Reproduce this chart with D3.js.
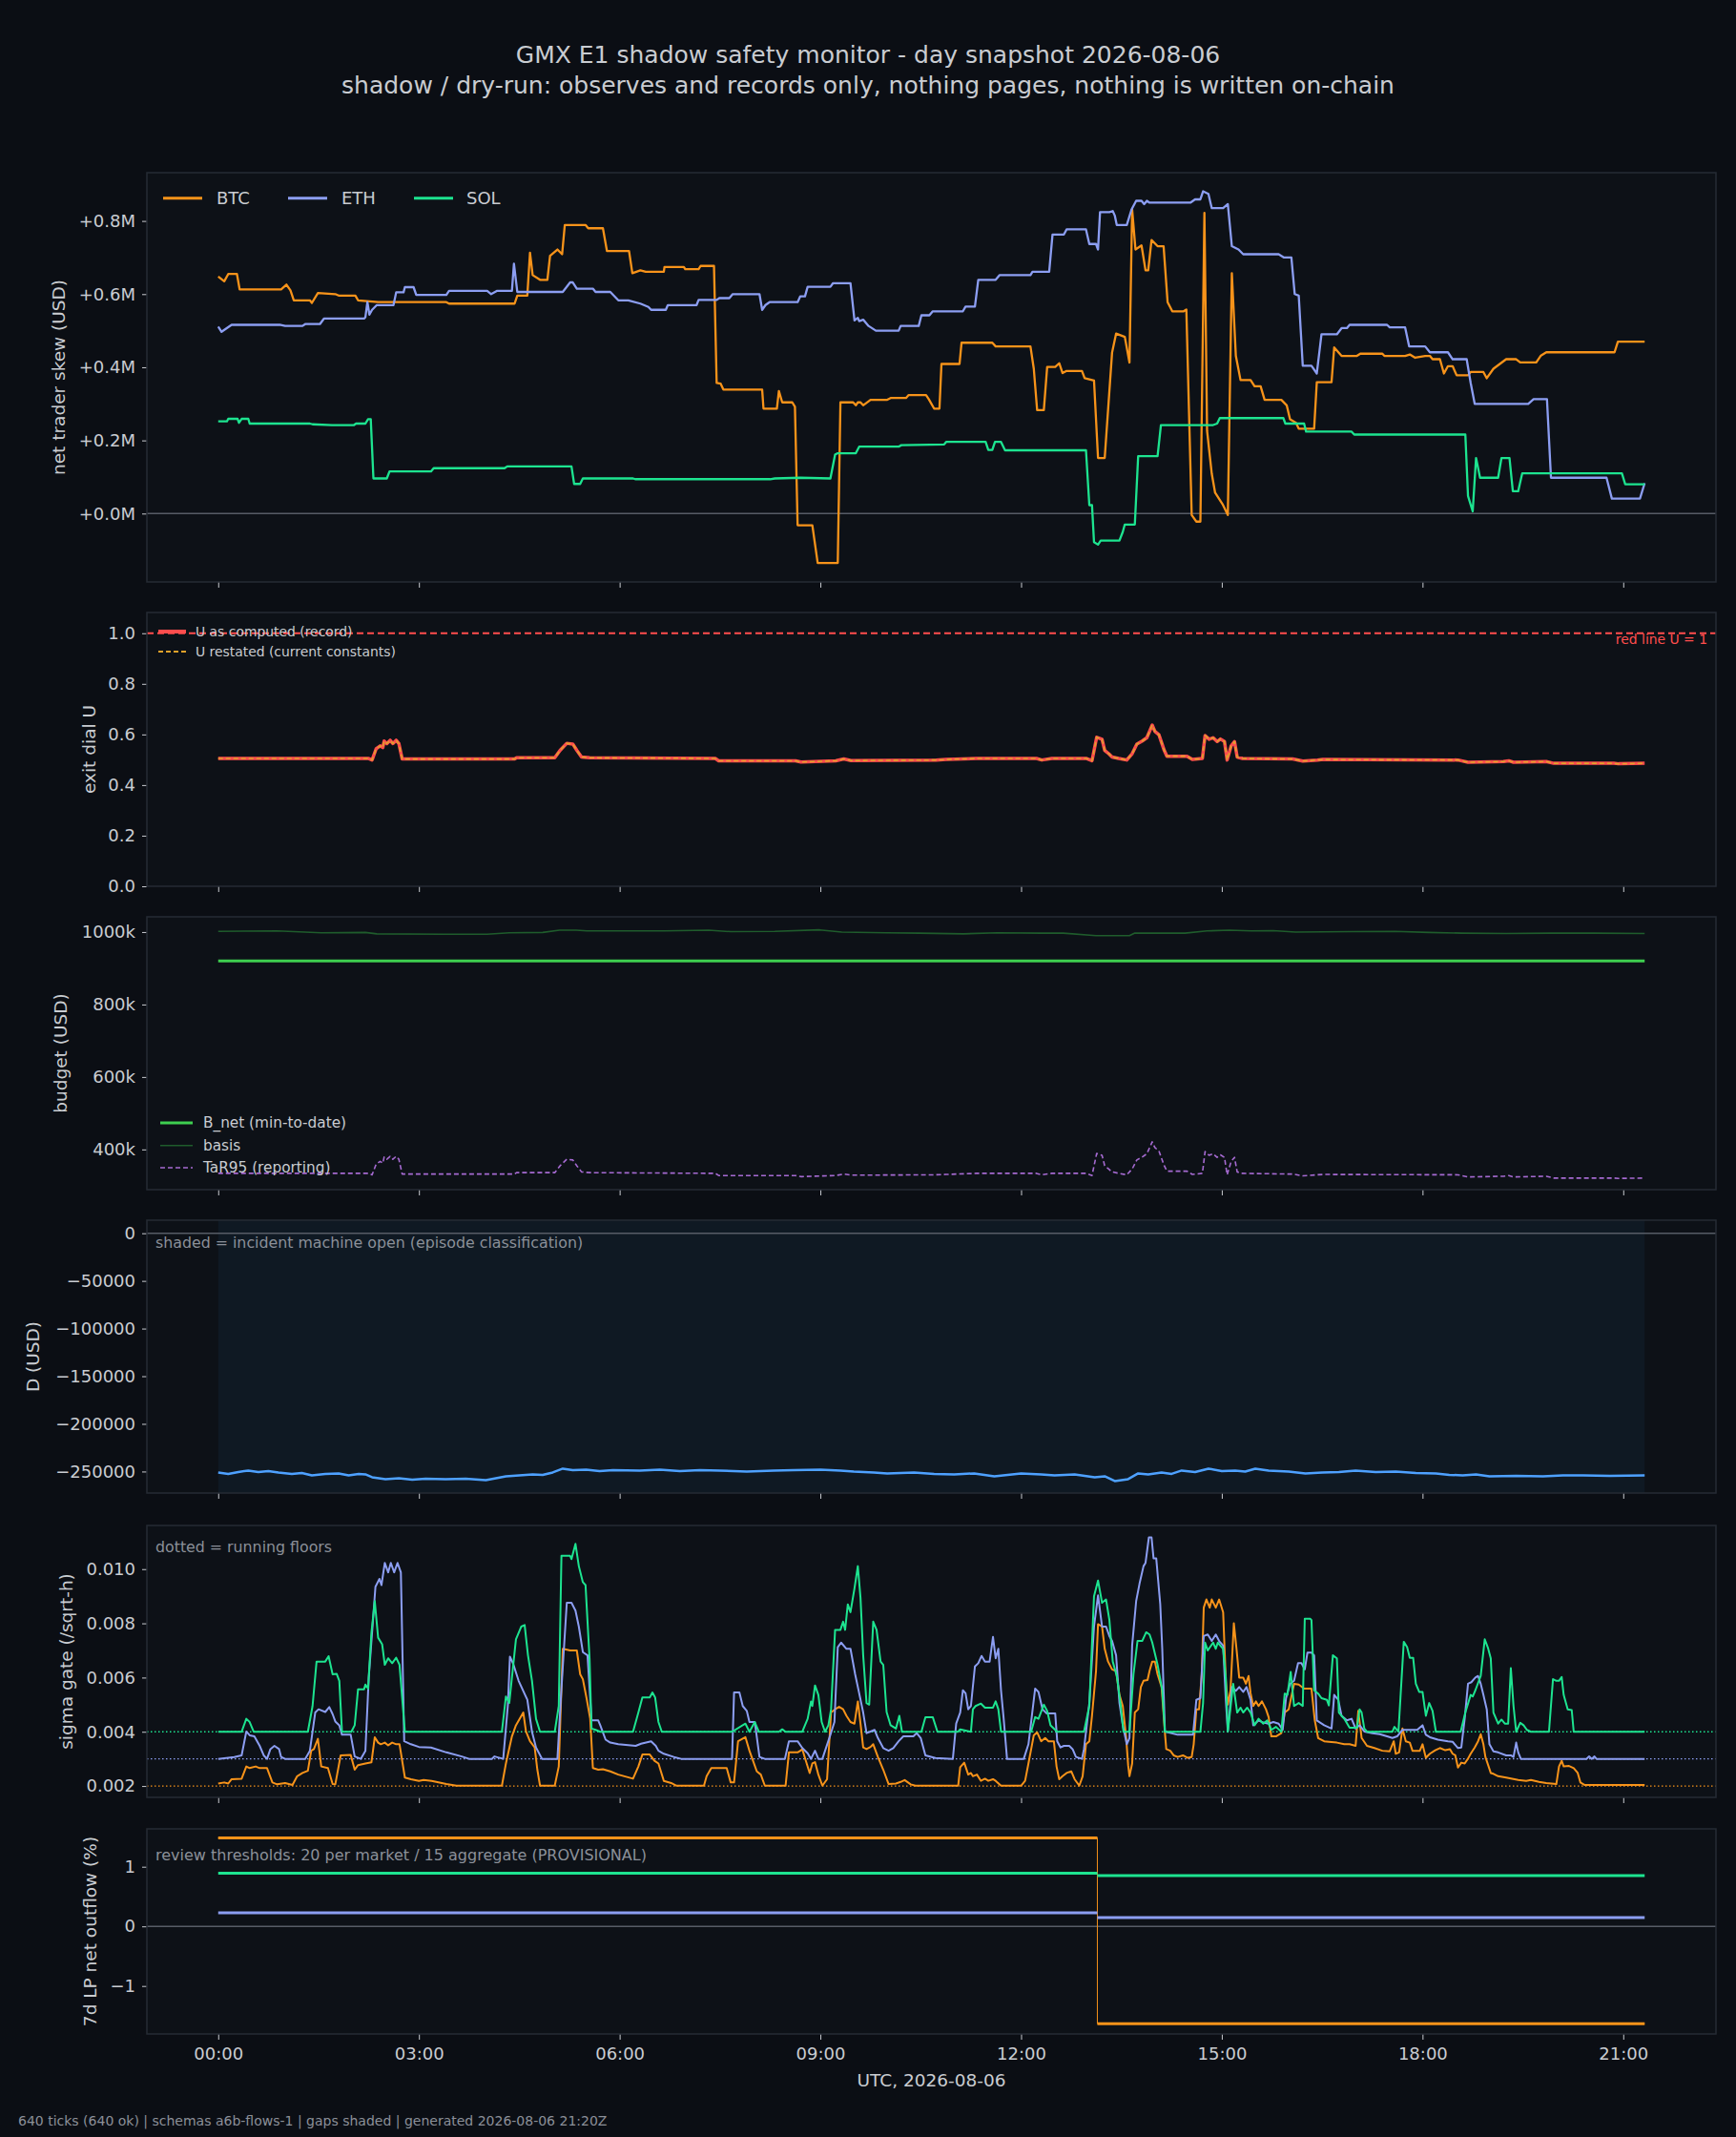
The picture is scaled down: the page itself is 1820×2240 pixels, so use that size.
<!DOCTYPE html>
<html>
<head>
<meta charset="utf-8">
<script src="https://cdn.jsdelivr.net/npm/d3@7"></script>
<style>
body{margin:0;background:#0b0e14;}
svg text{font-family:"DejaVu Sans",sans-serif;}
</style>
</head>
<body>
<svg id="chart"></svg>
<script>
// ---- data (time in hours UTC, 2026-08-06) ----
var hourTicks = [0,3,6,9,12,15,18,21];

// net trader skew, millions USD
var btcSkew = [[0.00,0.648],[0.09,0.635],[0.15,0.655],[0.28,0.655],[0.32,0.613],[0.94,0.613],[1.02,0.626],[1.08,0.610],[1.13,0.583],[1.37,0.583],[1.40,0.576],[1.49,0.603],[1.75,0.600],[1.80,0.596],[2.05,0.596],[2.09,0.583],[2.39,0.578],[3.41,0.578],[3.45,0.574],[4.43,0.574],[4.47,0.596],[4.62,0.596],[4.66,0.713],[4.70,0.652],[4.81,0.639],[4.92,0.639],[4.96,0.705],[5.07,0.722],[5.14,0.709],[5.18,0.789],[5.49,0.789],[5.53,0.780],[5.75,0.780],[5.81,0.718],[6.14,0.718],[6.19,0.657],[6.31,0.665],[6.39,0.661],[6.66,0.661],[6.67,0.674],[6.96,0.674],[6.98,0.668],[7.18,0.668],[7.21,0.677],[7.41,0.677],[7.45,0.357],[7.51,0.355],[7.55,0.339],[8.13,0.339],[8.15,0.287],[8.35,0.287],[8.38,0.335],[8.43,0.304],[8.58,0.304],[8.62,0.292],[8.66,-0.032],[8.88,-0.032],[8.96,-0.135],[9.26,-0.135],[9.30,0.304],[9.49,0.304],[9.53,0.296],[9.56,0.304],[9.60,0.304],[9.64,0.296],[9.75,0.311],[10.00,0.311],[10.05,0.316],[10.28,0.316],[10.32,0.324],[10.58,0.324],[10.62,0.313],[10.70,0.287],[10.78,0.287],[10.81,0.409],[11.08,0.409],[11.11,0.467],[11.57,0.467],[11.62,0.457],[12.14,0.457],[12.19,0.396],[12.24,0.283],[12.34,0.283],[12.39,0.401],[12.51,0.401],[12.57,0.411],[12.62,0.384],[12.68,0.390],[12.91,0.390],[12.95,0.370],[13.09,0.364],[13.15,0.152],[13.25,0.152],[13.36,0.440],[13.42,0.492],[13.55,0.483],[13.62,0.413],[13.66,0.831],[13.71,0.722],[13.80,0.733],[13.86,0.665],[13.90,0.665],[13.95,0.748],[14.04,0.731],[14.13,0.731],[14.19,0.578],[14.26,0.553],[14.43,0.553],[14.47,0.558],[14.55,-0.004],[14.62,-0.022],[14.68,-0.022],[14.74,0.822],[14.78,0.226],[14.85,0.109],[14.90,0.057],[15.01,0.026],[15.09,-0.004],[15.15,0.657],[15.21,0.431],[15.28,0.365],[15.43,0.365],[15.49,0.348],[15.58,0.348],[15.64,0.311],[15.89,0.311],[15.97,0.296],[16.02,0.258],[16.11,0.248],[16.15,0.232],[16.38,0.232],[16.42,0.359],[16.64,0.359],[16.68,0.454],[16.79,0.431],[17.02,0.431],[17.07,0.437],[17.40,0.437],[17.43,0.431],[17.74,0.431],[17.81,0.435],[17.89,0.426],[18.04,0.431],[18.11,0.431],[18.15,0.422],[18.26,0.422],[18.32,0.383],[18.38,0.403],[18.45,0.403],[18.51,0.378],[18.68,0.378],[18.72,0.387],[18.91,0.387],[18.96,0.370],[19.06,0.396],[19.25,0.422],[19.40,0.422],[19.46,0.413],[19.70,0.413],[19.77,0.432],[19.85,0.441],[20.87,0.441],[20.92,0.470],[21.32,0.470]];
var ethSkew = [[0.00,0.511],[0.05,0.497],[0.20,0.516],[0.92,0.516],[1.00,0.513],[1.26,0.513],[1.30,0.518],[1.52,0.518],[1.58,0.533],[2.18,0.533],[2.20,0.537],[2.23,0.578],[2.26,0.544],[2.30,0.557],[2.37,0.570],[2.62,0.570],[2.66,0.605],[2.77,0.605],[2.79,0.619],[2.92,0.619],[2.96,0.598],[3.41,0.598],[3.45,0.609],[4.02,0.609],[4.08,0.600],[4.17,0.609],[4.39,0.609],[4.42,0.683],[4.47,0.606],[5.15,0.606],[5.26,0.632],[5.30,0.632],[5.36,0.615],[5.60,0.615],[5.64,0.606],[5.86,0.606],[5.98,0.583],[6.13,0.583],[6.31,0.574],[6.43,0.565],[6.47,0.557],[6.69,0.557],[6.72,0.570],[7.15,0.570],[7.18,0.584],[7.45,0.584],[7.49,0.589],[7.64,0.589],[7.69,0.600],[8.09,0.600],[8.13,0.557],[8.18,0.570],[8.24,0.578],[8.66,0.578],[8.70,0.594],[8.77,0.594],[8.81,0.620],[9.15,0.620],[9.19,0.630],[9.45,0.630],[9.51,0.528],[9.56,0.535],[9.58,0.526],[9.64,0.530],[9.72,0.513],[9.83,0.500],[10.17,0.500],[10.20,0.513],[10.47,0.513],[10.51,0.542],[10.63,0.542],[10.68,0.553],[11.13,0.553],[11.17,0.566],[11.31,0.566],[11.36,0.639],[11.62,0.639],[11.68,0.652],[12.14,0.652],[12.17,0.661],[12.42,0.661],[12.47,0.763],[12.64,0.763],[12.68,0.777],[12.97,0.777],[13.02,0.737],[13.12,0.737],[13.15,0.722],[13.18,0.824],[13.32,0.824],[13.37,0.827],[13.40,0.815],[13.43,0.789],[13.58,0.789],[13.65,0.831],[13.72,0.855],[13.80,0.855],[13.84,0.846],[13.88,0.855],[13.92,0.850],[14.53,0.850],[14.60,0.859],[14.68,0.859],[14.72,0.881],[14.80,0.874],[14.85,0.835],[15.02,0.835],[15.09,0.846],[15.15,0.731],[15.25,0.722],[15.32,0.709],[15.85,0.709],[15.93,0.700],[16.04,0.700],[16.09,0.600],[16.15,0.596],[16.21,0.404],[16.34,0.404],[16.42,0.383],[16.49,0.490],[16.72,0.490],[16.79,0.507],[16.87,0.507],[16.91,0.516],[17.47,0.516],[17.51,0.509],[17.74,0.509],[17.80,0.457],[18.04,0.457],[18.11,0.441],[18.38,0.441],[18.45,0.422],[18.66,0.422],[18.72,0.357],[18.78,0.300],[19.58,0.300],[19.66,0.313],[19.86,0.313],[19.92,0.098],[20.75,0.098],[20.83,0.041],[21.25,0.041],[21.32,0.083]];
var solSkew = [[0.00,0.252],[0.13,0.252],[0.15,0.259],[0.29,0.259],[0.31,0.248],[0.35,0.259],[0.45,0.259],[0.47,0.246],[1.37,0.246],[1.41,0.244],[1.70,0.242],[2.03,0.242],[2.06,0.246],[2.20,0.246],[2.24,0.258],[2.28,0.258],[2.32,0.096],[2.52,0.096],[2.56,0.115],[3.18,0.115],[3.22,0.124],[4.28,0.124],[4.32,0.129],[5.28,0.129],[5.32,0.081],[5.41,0.081],[5.45,0.096],[6.20,0.096],[6.24,0.094],[8.25,0.094],[8.32,0.096],[8.70,0.098],[9.15,0.096],[9.22,0.161],[9.26,0.165],[9.53,0.165],[9.58,0.183],[10.17,0.183],[10.21,0.187],[10.85,0.189],[10.88,0.196],[11.47,0.196],[11.51,0.174],[11.57,0.174],[11.61,0.196],[11.70,0.196],[11.76,0.173],[12.97,0.173],[13.02,0.023],[13.06,0.023],[13.09,-0.078],[13.15,-0.085],[13.19,-0.074],[13.47,-0.074],[13.52,-0.050],[13.55,-0.030],[13.70,-0.030],[13.75,0.157],[14.04,0.157],[14.09,0.242],[14.87,0.242],[14.93,0.246],[14.97,0.261],[15.92,0.261],[15.95,0.246],[16.23,0.246],[16.26,0.224],[16.94,0.224],[16.98,0.216],[18.64,0.216],[18.68,0.048],[18.75,0.006],[18.80,0.152],[18.86,0.098],[19.13,0.098],[19.18,0.152],[19.30,0.152],[19.35,0.061],[19.43,0.061],[19.49,0.110],[20.98,0.110],[21.03,0.080],[21.32,0.080]];

// exit dial U (record); restated overlays it exactly
var uComputed = [[0.00,0.505],[2.25,0.505],[2.30,0.499],[2.36,0.543],[2.42,0.555],[2.46,0.548],[2.48,0.574],[2.52,0.564],[2.57,0.577],[2.61,0.564],[2.66,0.577],[2.70,0.564],[2.75,0.503],[4.43,0.503],[4.46,0.508],[5.03,0.508],[5.11,0.537],[5.21,0.565],[5.30,0.562],[5.36,0.537],[5.43,0.511],[5.55,0.508],[7.43,0.505],[7.48,0.496],[8.63,0.496],[8.71,0.491],[9.23,0.496],[9.35,0.503],[9.46,0.497],[10.73,0.499],[10.88,0.501],[11.33,0.505],[12.23,0.505],[12.31,0.499],[12.46,0.505],[12.98,0.505],[13.06,0.496],[13.13,0.589],[13.21,0.581],[13.25,0.537],[13.31,0.524],[13.36,0.511],[13.46,0.505],[13.58,0.499],[13.66,0.524],[13.73,0.562],[13.81,0.574],[13.88,0.587],[13.96,0.637],[14.00,0.612],[14.06,0.599],[14.14,0.537],[14.18,0.514],[14.48,0.514],[14.56,0.501],[14.71,0.505],[14.75,0.596],[14.81,0.581],[14.87,0.587],[14.93,0.572],[14.98,0.582],[15.04,0.572],[15.08,0.499],[15.14,0.555],[15.19,0.572],[15.23,0.511],[15.31,0.505],[16.06,0.503],[16.21,0.495],[16.43,0.499],[16.51,0.501],[18.53,0.499],[18.68,0.490],[19.21,0.493],[19.29,0.496],[19.36,0.490],[19.85,0.493],[19.96,0.486],[20.86,0.486],[20.93,0.484],[21.32,0.486]];
var uRestated = uComputed;
var uRedLine = 1.0;

// budget, thousands USD
var bNet = [[0,920],[21.32,920]];
var basis = [[0,1002],[0.88,1003],[1.54,998],[2.2,999],[2.37,995],[3.36,994],[4.02,994],[4.35,998],[4.85,999],[5.1,1005],[5.35,1005],[5.51,1003],[6.67,1003],[7.33,1005],[7.66,1001],[8.32,1002],[8.99,1006],[9.32,1000],[9.98,998],[10.48,997],[11.14,995],[11.64,998],[12.3,997],[12.63,997],[13.12,990],[13.62,990],[13.7,997],[14.45,997],[14.78,1003],[15.11,1005],[15.44,1003],[15.77,1004],[16.1,1000],[16.93,1001],[17.59,1002],[18.09,999],[18.59,997],[19.25,996],[19.91,997],[20.57,997],[21.32,996]];
var tar95 = [[0.00,334],[2.25,334],[2.30,330],[2.36,359],[2.42,367],[2.46,362],[2.48,379],[2.52,373],[2.57,381],[2.61,373],[2.66,381],[2.70,373],[2.75,332],[4.43,332],[4.46,336],[5.03,336],[5.11,355],[5.21,373],[5.30,371],[5.36,355],[5.43,338],[5.55,336],[7.43,334],[7.48,328],[8.63,328],[8.71,325],[9.23,328],[9.35,332],[9.46,329],[10.73,330],[10.88,331],[11.33,334],[12.23,334],[12.31,330],[12.46,334],[12.98,334],[13.06,328],[13.13,389],[13.21,384],[13.25,355],[13.31,346],[13.36,338],[13.46,334],[13.58,330],[13.66,346],[13.73,371],[13.81,379],[13.88,388],[13.96,421],[14.00,405],[14.06,396],[14.14,355],[14.18,340],[14.48,340],[14.56,331],[14.71,334],[14.75,394],[14.81,384],[14.87,388],[14.93,378],[14.98,385],[15.04,378],[15.08,330],[15.14,367],[15.19,378],[15.23,338],[15.31,334],[16.06,332],[16.21,327],[16.43,330],[16.51,331],[18.53,330],[18.68,324],[19.21,326],[19.29,328],[19.36,324],[19.85,326],[19.96,321],[20.86,321],[20.93,320],[21.32,321]];

// D, USD
var dSeries = [[0,-251000],[0.15,-252500],[0.3,-250500],[0.45,-249000],[0.6,-250500],[0.75,-249500],[0.9,-251000],[1.1,-252500],[1.25,-251500],[1.4,-254000],[1.6,-252500],[1.8,-252000],[1.95,-254000],[2.1,-252500],[2.2,-253000],[2.3,-256000],[2.5,-258000],[2.7,-257000],[2.9,-258500],[3.1,-257500],[3.4,-258000],[3.7,-257500],[4.0,-259000],[4.15,-257000],[4.3,-255000],[4.5,-254000],[4.7,-253000],[4.85,-253500],[5.0,-251000],[5.15,-247000],[5.3,-248500],[5.5,-248000],[5.7,-249500],[5.9,-248500],[6.3,-249000],[6.6,-248000],[6.9,-249500],[7.2,-248500],[7.5,-249000],[7.9,-250000],[8.3,-249000],[8.6,-248500],[9.0,-248000],[9.3,-249000],[9.5,-250000],[9.8,-251000],[10.0,-252000],[10.4,-251000],[10.7,-252500],[11.0,-253000],[11.3,-252000],[11.6,-255000],[11.8,-253500],[12.0,-252000],[12.3,-253000],[12.5,-254000],[12.8,-253000],[13.1,-256000],[13.25,-255000],[13.4,-260000],[13.6,-258000],[13.75,-252000],[13.9,-253000],[14.1,-251000],[14.25,-252500],[14.4,-249000],[14.6,-250500],[14.8,-247000],[15.0,-249500],[15.2,-249000],[15.35,-250000],[15.5,-247000],[15.7,-249000],[16.0,-250000],[16.25,-252000],[16.5,-251000],[16.75,-250500],[17.0,-249000],[17.3,-250500],[17.6,-250000],[17.9,-251500],[18.2,-252000],[18.4,-253500],[18.6,-254000],[18.8,-253000],[19.0,-255000],[19.4,-254500],[19.8,-255000],[20.1,-254000],[20.4,-254000],[20.8,-254500],[21.32,-254000]];
var incidentOpen = [0, 21.32];

// sigma gate, units of 1e-3 /sqrt-h
var sigmaFloors = {btc:2.0, eth:3.0, sol:4.0};
var solSigma = [[0,4.0],[0.35,4.0],[0.42,4.48],[0.47,4.36],[0.53,4.0],[1.34,4.0],[1.41,4.95],[1.47,6.59],[1.60,6.59],[1.65,6.79],[1.71,6.12],[1.77,6.14],[1.81,5.88],[1.85,4.0],[1.99,4.0],[2.04,4.24],[2.09,5.57],[2.18,5.57],[2.20,5.74],[2.24,5.59],[2.29,7.65],[2.34,8.82],[2.39,7.47],[2.45,7.23],[2.49,6.47],[2.54,6.71],[2.60,6.53],[2.66,6.73],[2.71,6.47],[2.79,4.0],[4.24,4.0],[4.30,5.30],[4.35,5.06],[4.45,7.41],[4.53,7.88],[4.58,7.94],[4.63,6.82],[4.69,5.88],[4.75,4.48],[4.81,4.0],[5.03,4.0],[5.09,4.95],[5.13,10.49],[5.26,10.49],[5.28,10.37],[5.34,10.93],[5.39,10.11],[5.45,9.52],[5.49,9.41],[5.55,6.71],[5.58,4.12],[5.64,4.07],[5.71,4.0],[6.20,4.0],[6.28,4.71],[6.34,5.27],[6.45,5.27],[6.49,5.45],[6.53,5.27],[6.58,4.36],[6.63,4.0],[7.68,4.0],[7.88,4.30],[7.94,4.0],[8.02,4.36],[8.08,4.0],[8.38,4.0],[8.43,4.09],[8.48,4.0],[8.73,4.0],[8.81,4.48],[8.86,5.12],[8.88,4.95],[8.92,5.71],[8.97,5.36],[9.02,4.36],[9.07,4.0],[9.12,4.24],[9.16,4.83],[9.22,7.76],[9.30,7.76],[9.34,8.06],[9.37,7.76],[9.41,8.70],[9.45,8.41],[9.51,9.29],[9.56,10.11],[9.60,8.94],[9.64,6.82],[9.69,5.06],[9.73,5.00],[9.79,8.06],[9.84,7.76],[9.90,6.59],[9.94,6.47],[9.99,4.73],[10.05,4.24],[10.13,4.12],[10.18,4.59],[10.22,4.0],[10.51,4.0],[10.57,4.54],[10.68,4.54],[10.75,4.0],[11.06,4.0],[11.09,4.09],[11.25,4.0],[11.28,4.83],[11.32,4.95],[11.40,5.04],[11.46,4.89],[11.51,4.89],[11.58,4.89],[11.62,5.12],[11.66,4.83],[11.70,4.0],[12.15,4.0],[12.21,4.54],[12.26,4.48],[12.34,5.00],[12.39,4.77],[12.44,4.24],[12.54,4.0],[12.94,4.0],[13.02,4.95],[13.09,9.00],[13.15,9.58],[13.21,8.76],[13.27,8.88],[13.32,8.12],[13.37,6.59],[13.43,6.06],[13.49,4.95],[13.53,4.0],[13.62,4.0],[13.68,6.12],[13.74,7.35],[13.81,7.35],[13.87,7.67],[13.92,7.59],[13.96,7.30],[14.04,6.47],[14.11,5.53],[14.15,4.0],[14.68,4.0],[14.72,5.06],[14.75,7.29],[14.79,7.00],[14.87,7.29],[14.91,7.06],[14.94,7.29],[15.02,7.06],[15.06,5.99],[15.09,4.0],[15.17,5.77],[15.23,4.71],[15.28,4.89],[15.32,4.71],[15.38,4.89],[15.43,4.71],[15.49,4.24],[15.55,4.48],[15.62,4.30],[15.68,4.42],[15.74,4.07],[15.81,4.18],[15.89,4.0],[15.94,5.41],[15.98,5.36],[16.03,6.21],[16.08,4.95],[16.15,5.06],[16.21,4.95],[16.24,8.17],[16.32,8.17],[16.34,8.12],[16.38,5.53],[16.44,5.41],[16.49,5.24],[16.57,5.18],[16.60,4.97],[16.66,6.82],[16.72,6.71],[16.75,4.71],[16.79,4.59],[16.83,4.48],[16.91,4.15],[17.02,4.15],[17.06,4.83],[17.09,4.71],[17.13,4.12],[17.17,4.0],[17.55,4.0],[17.58,4.18],[17.64,4.0],[17.72,7.32],[17.77,7.12],[17.81,6.73],[17.86,6.73],[17.90,5.77],[17.95,5.47],[18.00,5.47],[18.05,4.59],[18.10,5.06],[18.15,4.77],[18.20,4.0],[18.57,4.0],[18.64,4.71],[18.72,5.36],[18.75,5.30],[18.79,5.53],[18.87,6.06],[18.93,7.41],[18.98,7.08],[19.02,6.71],[19.06,4.71],[19.13,4.30],[19.18,4.45],[19.23,4.30],[19.28,4.30],[19.32,6.35],[19.36,4.95],[19.40,4.0],[19.46,4.33],[19.51,4.24],[19.56,4.07],[19.62,4.0],[19.89,4.0],[19.95,5.94],[20.0,5.88],[20.04,5.88],[20.08,6.02],[20.11,5.36],[20.17,4.83],[20.23,4.80],[20.26,4.0],[21.32,4.0]];
var ethSigma = [[0,3.0],[0.24,3.07],[0.35,3.13],[0.42,4.01],[0.47,3.87],[0.54,3.83],[0.62,3.48],[0.68,3.13],[0.73,3.0],[0.78,3.36],[0.84,3.48],[0.91,3.36],[0.94,3.07],[1.0,3.0],[1.30,3.0],[1.37,3.30],[1.45,4.71],[1.50,4.83],[1.60,4.73],[1.66,4.91],[1.71,4.65],[1.75,4.38],[1.81,4.24],[1.85,3.89],[1.98,3.89],[2.04,3.09],[2.13,3.0],[2.20,3.30],[2.25,6.0],[2.35,9.35],[2.41,9.64],[2.44,9.41],[2.49,10.23],[2.54,9.88],[2.58,10.23],[2.63,9.88],[2.68,10.23],[2.73,9.88],[2.78,3.65],[2.88,3.54],[3.0,3.44],[3.18,3.42],[3.41,3.24],[3.64,3.09],[3.75,3.0],[4.09,3.0],[4.13,3.09],[4.26,3.0],[4.33,5.0],[4.36,6.77],[4.41,6.5],[4.49,5.88],[4.62,5.18],[4.69,4.0],[4.75,3.42],[4.84,3.0],[5.07,3.0],[5.13,5.6],[5.21,8.76],[5.28,8.76],[5.34,8.47],[5.39,7.88],[5.45,6.94],[5.52,6.82],[5.58,4.42],[5.68,4.42],[5.71,4.24],[5.79,3.71],[5.86,3.60],[5.98,3.54],[6.24,3.48],[6.32,3.56],[6.47,3.65],[6.54,3.48],[6.58,3.30],[6.66,3.19],[6.81,3.07],[6.92,3.0],[7.68,3.0],[7.71,5.45],[7.79,5.45],[7.84,4.95],[7.90,4.77],[7.94,4.36],[8.02,4.36],[8.09,3.07],[8.17,3.0],[8.47,3.0],[8.53,3.65],[8.66,3.65],[8.73,3.40],[8.81,3.21],[8.86,3.0],[8.92,3.30],[8.97,3.0],[9.03,3.0],[9.15,3.89],[9.21,4.36],[9.26,7.12],[9.31,7.29],[9.39,7.06],[9.45,7.06],[9.52,6.12],[9.58,5.42],[9.64,4.71],[9.69,3.95],[9.75,4.01],[9.81,4.07],[9.86,3.77],[9.94,3.40],[10.02,3.30],[10.09,3.40],[10.17,3.65],[10.24,3.83],[10.39,3.83],[10.44,3.95],[10.50,3.77],[10.57,3.13],[10.72,3.03],[10.98,3.0],[11.03,4.30],[11.09,4.71],[11.13,5.53],[11.17,5.42],[11.21,4.83],[11.25,4.95],[11.31,6.41],[11.36,6.53],[11.41,6.80],[11.46,6.59],[11.53,6.59],[11.58,7.50],[11.62,6.71],[11.66,7.06],[11.70,5.53],[11.74,4.48],[11.79,3.0],[12.04,3.0],[12.11,3.54],[12.21,5.59],[12.26,5.47],[12.32,4.83],[12.38,4.68],[12.51,4.68],[12.54,3.65],[12.59,3.42],[12.64,3.48],[12.72,3.48],[12.77,3.36],[12.82,3.07],[12.91,3.0],[12.94,3.36],[13.02,5.06],[13.09,7.88],[13.15,9.03],[13.21,7.88],[13.27,7.88],[13.32,7.53],[13.36,7.35],[13.42,6.82],[13.47,5.06],[13.52,4.24],[13.58,3.54],[13.62,3.77],[13.66,7.18],[13.72,8.82],[13.77,9.46],[13.83,10.11],[13.86,10.23],[13.91,11.17],[13.95,11.17],[13.98,10.40],[14.02,10.40],[14.08,8.70],[14.11,7.06],[14.15,4.01],[14.34,3.89],[14.57,3.89],[14.62,5.18],[14.68,5.24],[14.73,7.53],[14.79,7.59],[14.85,7.35],[14.91,7.59],[14.96,7.35],[15.02,7.18],[15.06,5.18],[15.09,4.01],[15.15,5.65],[15.21,5.51],[15.26,5.65],[15.32,5.47],[15.37,5.65],[15.43,5.18],[15.47,4.24],[15.55,4.42],[15.62,4.34],[15.70,4.30],[15.77,4.36],[15.85,4.30],[15.91,4.07],[15.96,5.24],[16.02,5.77],[16.08,5.88],[16.14,6.53],[16.19,6.53],[16.24,6.30],[16.28,6.92],[16.34,6.92],[16.38,6.82],[16.42,4.42],[16.53,4.24],[16.64,4.12],[16.68,5.36],[16.74,5.18],[16.79,4.59],[16.87,4.42],[16.94,4.48],[17.0,4.12],[17.06,4.24],[17.13,4.01],[17.25,3.95],[17.36,3.91],[17.47,3.83],[17.55,3.77],[17.62,3.83],[17.70,4.07],[17.92,4.07],[18.0,4.24],[18.05,3.89],[18.11,3.80],[18.23,3.71],[18.38,3.65],[18.45,3.63],[18.53,3.40],[18.58,3.42],[18.63,4.48],[18.68,5.77],[18.73,5.83],[18.79,6.0],[18.83,6.06],[18.87,5.77],[18.91,5.36],[18.96,4.83],[19.0,3.54],[19.06,3.28],[19.13,3.24],[19.25,3.13],[19.32,3.13],[19.36,3.07],[19.40,3.60],[19.43,3.24],[19.47,3.0],[20.45,3.0],[20.49,3.09],[20.53,3.0],[20.57,3.09],[20.60,3.0],[21.32,3.0]];
var btcSigma = [[0,2.09],[0.09,2.13],[0.15,2.09],[0.20,2.25],[0.35,2.27],[0.42,2.72],[0.47,2.66],[0.56,2.72],[0.62,2.66],[0.73,2.66],[0.81,2.13],[0.88,2.06],[1.0,2.11],[1.11,2.04],[1.18,2.36],[1.26,2.48],[1.34,2.56],[1.39,3.30],[1.43,3.36],[1.49,3.74],[1.54,2.72],[1.64,2.66],[1.71,2.07],[1.75,2.06],[1.83,3.13],[1.98,3.15],[2.04,2.60],[2.09,2.77],[2.20,2.83],[2.29,2.87],[2.34,3.80],[2.39,3.60],[2.43,3.54],[2.49,3.60],[2.54,3.50],[2.60,3.60],[2.66,3.54],[2.71,3.54],[2.79,2.31],[2.88,2.25],[3.0,2.19],[3.07,2.22],[3.19,2.19],[3.41,2.07],[3.56,2.01],[4.24,2.01],[4.30,2.83],[4.39,3.83],[4.45,4.24],[4.56,4.71],[4.60,4.01],[4.66,3.65],[4.73,3.42],[4.77,2.60],[4.81,2.01],[5.03,2.01],[5.09,2.72],[5.15,7.06],[5.26,7.00],[5.36,7.00],[5.41,6.12],[5.45,5.94],[5.51,5.18],[5.56,4.48],[5.60,2.66],[5.68,2.60],[5.75,2.62],[5.86,2.54],[5.98,2.42],[6.20,2.27],[6.28,2.72],[6.34,3.16],[6.45,3.16],[6.52,2.93],[6.58,2.83],[6.66,2.19],[6.77,2.11],[6.85,2.01],[7.26,2.01],[7.30,2.36],[7.37,2.66],[7.60,2.66],[7.66,2.13],[7.71,2.13],[7.77,3.65],[7.88,3.80],[7.94,3.30],[8.05,2.54],[8.11,2.42],[8.17,2.01],[8.48,2.01],[8.53,3.24],[8.66,3.24],[8.70,3.30],[8.73,3.36],[8.78,2.95],[8.84,2.48],[8.88,2.83],[8.92,2.88],[8.97,2.42],[9.03,2.01],[9.10,2.25],[9.16,4.71],[9.22,4.83],[9.28,4.92],[9.34,4.83],[9.39,4.59],[9.45,4.36],[9.51,4.30],[9.56,5.12],[9.60,4.30],[9.64,3.42],[9.69,3.36],[9.75,3.44],[9.79,3.54],[9.86,3.07],[9.94,2.60],[10.02,2.07],[10.13,2.09],[10.20,2.15],[10.26,2.22],[10.35,2.06],[10.42,2.01],[11.06,2.01],[11.09,2.69],[11.15,2.86],[11.21,2.42],[11.25,2.48],[11.28,2.36],[11.34,2.42],[11.40,2.19],[11.46,2.27],[11.51,2.19],[11.58,2.25],[11.62,2.19],[11.70,2.01],[12.0,2.01],[12.06,2.19],[12.11,2.83],[12.19,3.87],[12.24,3.98],[12.30,3.65],[12.36,3.77],[12.41,3.65],[12.49,3.65],[12.53,2.72],[12.57,2.25],[12.62,2.36],[12.68,2.48],[12.75,2.54],[12.80,2.25],[12.87,2.01],[12.92,2.36],[12.97,3.54],[13.02,3.65],[13.06,4.59],[13.12,6.24],[13.15,7.97],[13.21,7.88],[13.25,7.06],[13.30,6.59],[13.36,6.30],[13.42,6.24],[13.47,5.36],[13.52,4.95],[13.57,3.80],[13.60,2.77],[13.62,2.36],[13.66,2.83],[13.70,4.71],[13.75,4.83],[13.79,5.65],[13.83,5.88],[13.89,5.91],[13.92,6.24],[13.96,6.59],[14.0,6.59],[14.04,6.12],[14.10,5.65],[14.15,3.95],[14.17,3.36],[14.23,3.30],[14.28,3.13],[14.34,3.07],[14.42,3.13],[14.49,3.04],[14.55,3.07],[14.58,3.54],[14.62,4.83],[14.66,4.83],[14.70,6.12],[14.73,8.58],[14.77,8.88],[14.82,8.58],[14.85,8.88],[14.91,8.58],[14.96,8.88],[15.02,8.41],[15.06,5.88],[15.09,5.00],[15.13,5.53],[15.18,8.0],[15.22,7.06],[15.26,6.0],[15.32,6.0],[15.36,5.77],[15.40,6.06],[15.43,5.42],[15.47,4.95],[15.51,5.12],[15.55,4.95],[15.60,5.12],[15.66,4.83],[15.70,4.54],[15.74,3.83],[15.81,3.83],[15.89,3.95],[15.94,4.71],[16.0,4.83],[16.08,5.77],[16.15,5.74],[16.23,5.59],[16.34,5.59],[16.39,4.42],[16.44,3.77],[16.53,3.65],[16.60,3.63],[16.72,3.60],[16.83,3.54],[16.91,3.54],[17.0,3.48],[17.04,4.77],[17.09,3.77],[17.17,3.48],[17.28,3.40],[17.40,3.30],[17.51,3.28],[17.57,3.65],[17.60,3.19],[17.65,3.24],[17.70,4.12],[17.75,3.65],[17.81,3.60],[17.85,3.30],[17.96,3.30],[18.0,3.54],[18.05,3.04],[18.11,3.19],[18.19,3.32],[18.26,3.40],[18.34,3.32],[18.41,3.36],[18.45,3.19],[18.49,3.13],[18.53,2.68],[18.58,2.86],[18.63,2.83],[18.68,3.01],[18.72,3.19],[18.78,3.42],[18.83,3.65],[18.87,3.91],[18.91,3.54],[18.94,3.07],[19.02,2.48],[19.06,2.45],[19.13,2.36],[19.25,2.31],[19.43,2.22],[19.55,2.19],[19.62,2.22],[19.74,2.15],[19.85,2.11],[20.0,2.07],[20.04,2.72],[20.08,2.93],[20.11,2.72],[20.19,2.74],[20.26,2.66],[20.32,2.48],[20.36,2.13],[20.42,2.04],[21.32,2.04]];

// 7d LP net outflow, percent (steps)
var lpBtc = [[0,1.483],[13.14,-1.632],[21.32,-1.632]];
var lpEth = [[0,0.229],[13.14,0.149],[21.32,0.149]];
var lpSol = [[0,0.891],[13.14,0.853],[21.32,0.853]];

// ---- layout / style ----
var screen = {width:1820, height:2240};
var colors = {btc:"#f7931a", eth:"#8c9ef2", sol:"#1de490", text:"#c9ccd1", dim:"#8b9099",
              face:"#0d1117", edge:"#262b34", zero:"#575c66"};

var svg = d3.select("#chart")
    .attr("width",screen.width)
    .attr("height",screen.height)
    .style("background","#0b0e14");

var xScale = d3.scaleLinear().domain([-1.066,22.386]).range([154,1799]);

var panels = [
    {top:181, bottom:610, domain:[-0.187,0.932], ticks:[0,0.2,0.4,0.6,0.8],
     fmt:function(v){return (v>=0?"+":"")+v.toFixed(1)+"M";}, label:"net trader skew (USD)", labelX:61},
    {top:642, bottom:929, domain:[0,1.082], ticks:[0,0.2,0.4,0.6,0.8,1.0],
     fmt:d3.format(".1f"), label:"exit dial U", labelX:93},
    {top:961, bottom:1247, domain:[289,1042], ticks:[400,600,800,1000],
     fmt:function(v){return v+"k";}, label:"budget (USD)", labelX:63},
    {top:1279, bottom:1565, domain:[-272600,13700], ticks:[0,-50000,-100000,-150000,-200000,-250000],
     fmt:d3.format("d"), label:"D (USD)", labelX:34},
    {top:1599, bottom:1884, domain:[1.58,11.61], ticks:[2,4,6,8,10],
     fmt:function(v){return (v/1000).toFixed(3);}, label:"sigma gate (/sqrt-h)", labelX:69},
    {top:1917, bottom:2132, domain:[-1.805,1.635], ticks:[-1,0,1],
     fmt:d3.format("d"), label:"7d LP net outflow (%)", labelX:94}
];

var hourFmt = function(h){return (h<10?"0":"")+h+":00";};

var drawPanel = function(p,i)
{
    p.y = d3.scaleLinear().domain(p.domain).range([p.bottom,p.top]);

    svg.append("rect")
        .attr("x",xScale.range()[0]).attr("y",p.top)
        .attr("width",xScale.range()[1]-xScale.range()[0])
        .attr("height",p.bottom-p.top)
        .attr("fill",colors.face);

    svg.append("clipPath").attr("id","clip"+i)
        .append("rect")
        .attr("x",xScale.range()[0]).attr("y",p.top)
        .attr("width",xScale.range()[1]-xScale.range()[0])
        .attr("height",p.bottom-p.top);

    p.g = svg.append("g").attr("clip-path","url(#clip"+i+")");

    var yAxis = d3.axisLeft(p.y).tickValues(p.ticks).tickFormat(p.fmt)
        .tickSize(5).tickPadding(7);
    var ya = svg.append("g")
        .attr("transform","translate("+xScale.range()[0]+",0)")
        .call(yAxis);
    ya.select(".domain").remove();
    ya.selectAll("line").attr("stroke",colors.text);
    ya.selectAll("text").attr("fill",colors.text).style("font-size","18px");

    var last = (i==panels.length-1);
    var xAxis = d3.axisBottom(xScale).tickValues(hourTicks)
        .tickFormat(last ? hourFmt : function(){return "";})
        .tickSize(6).tickPadding(8);
    var xa = svg.append("g")
        .attr("transform","translate(0,"+p.bottom+")")
        .call(xAxis);
    xa.select(".domain").remove();
    xa.selectAll("line").attr("stroke",colors.text);
    xa.selectAll("text").attr("fill",colors.text).style("font-size","18px");

    svg.append("g")
        .attr("transform","translate("+p.labelX+","+((p.top+p.bottom)/2)+")")
        .append("text")
        .text(p.label)
        .attr("transform","rotate(-90)")
        .attr("text-anchor","middle")
        .attr("dominant-baseline","central")
        .attr("fill",colors.text)
        .style("font-size","18.5px");
};

var frame = function(p)
{
    svg.append("rect")
        .attr("x",xScale.range()[0]).attr("y",p.top)
        .attr("width",xScale.range()[1]-xScale.range()[0])
        .attr("height",p.bottom-p.top)
        .attr("fill","none")
        .attr("stroke",colors.edge)
        .attr("stroke-width",1.5);
};

var drawLine = function(p,data,color,width,dash,curve)
{
    var line = d3.line()
        .x(function(d){return xScale(d[0]);})
        .y(function(d){return p.y(d[1]);})
        .curve(curve || d3.curveLinear);
    var path = p.g.append("path")
        .datum(data)
        .attr("d",line)
        .attr("fill","none")
        .attr("stroke",color)
        .attr("stroke-width",width)
        .attr("stroke-linejoin","round");
    if(dash) path.attr("stroke-dasharray",dash);
    return path;
};

// thick flat parts of a step series (risers are drawn thin separately)
var drawTreads = function(p,data,color,width)
{
    p.g.selectAll(null)
        .data(data.slice(0,-1))
        .enter()
        .append("line")
        .attr("x1",function(d){return xScale(d[0]);})
        .attr("x2",function(d,k){return xScale(data[k+1][0]);})
        .attr("y1",function(d){return p.y(d[1]);})
        .attr("y2",function(d){return p.y(d[1]);})
        .attr("stroke",color)
        .attr("stroke-width",width);
};

var hline = function(p,v,color,width,dash)
{
    var l = p.g.append("line")
        .attr("x1",xScale.range()[0]).attr("x2",xScale.range()[1])
        .attr("y1",p.y(v)).attr("y2",p.y(v))
        .attr("stroke",color).attr("stroke-width",width);
    if(dash) l.attr("stroke-dasharray",dash);
};

var note = function(x,y,txt,size,color,anchor)
{
    svg.append("text").text(txt)
        .attr("x",x).attr("y",y)
        .attr("text-anchor",anchor||"start")
        .attr("fill",color)
        .style("font-size",size+"px");
};

var legendEntry = function(x,y,len,color,width,dash,label,size,textX)
{
    var l = svg.append("line")
        .attr("x1",x).attr("x2",x+len).attr("y1",y).attr("y2",y)
        .attr("stroke",color).attr("stroke-width",width);
    if(dash) l.attr("stroke-dasharray",dash);
    svg.append("text").text(label)
        .attr("x",textX).attr("y",y)
        .attr("dominant-baseline","central")
        .attr("fill",colors.text)
        .style("font-size",size+"px");
};

panels.forEach(drawPanel);

// panel 1: skew
var p1 = panels[0];
hline(p1,0,colors.zero,1.5);
drawLine(p1,btcSkew,colors.btc,2.3);
drawLine(p1,ethSkew,colors.eth,2.3);
drawLine(p1,solSkew,colors.sol,2.3);
legendEntry(171,207.7,41,colors.btc,3,null,"BTC",18,227);
legendEntry(302,207.7,41,colors.eth,3,null,"ETH",18,358);
legendEntry(434,207.7,41,colors.sol,3,null,"SOL",18,489);

// panel 2: exit dial
var p2 = panels[1];
hline(p2,uRedLine,"#ff4d4d",2,"7,4");
drawLine(p2,uComputed,"#ff4d4d",3.5);
drawLine(p2,uRestated,"#e0a22a",1.6,"5,3");
note(1790,675,"red line U = 1",13.9,"#ff4d4d","end");
legendEntry(166,662,29,"#ff4d4d",4,null,"U as computed (record)",13.9,205);
legendEntry(166,683,29,"#e0a22a",2,"5,3","U restated (current constants)",13.9,205);

// panel 3: budget
var p3 = panels[2];
drawLine(p3,basis,"#1f5c2c",1.6);
drawLine(p3,bNet,"#3ecf50",3);
drawLine(p3,tar95,"#a56ad1",1.6,"5,3");
legendEntry(168,1177,34,"#3ecf50",3,null,"B_net (min-to-date)",15.3,213);
legendEntry(168,1200.7,34,"#1f5c2c",1.6,null,"basis",15.3,213);
legendEntry(168,1224,34,"#a56ad1",1.6,"5,3","TaR95 (reporting)",15.3,213);

// panel 4: D with incident shading
var p4 = panels[3];
p4.g.append("rect")
    .attr("x",xScale(incidentOpen[0]))
    .attr("width",xScale(incidentOpen[1])-xScale(incidentOpen[0]))
    .attr("y",p4.top).attr("height",p4.bottom-p4.top)
    .attr("fill","#0f1923");
hline(p4,0,colors.zero,1.5);
drawLine(p4,dSeries,"#4ea1ff",2.5);
note(163,1308,"shaded = incident machine open (episode classification)",15.8,colors.dim);

// panel 5: sigma gates
var p5 = panels[4];
hline(p5,sigmaFloors.sol,colors.sol,1.3,"1.5,2.5");
hline(p5,sigmaFloors.eth,colors.eth,1.3,"1.5,2.5");
hline(p5,sigmaFloors.btc,colors.btc,1.3,"1.5,2.5");
drawLine(p5,btcSigma,colors.btc,2);
drawLine(p5,ethSigma,colors.eth,2);
drawLine(p5,solSigma,colors.sol,2);
note(163,1627,"dotted = running floors",15.8,colors.dim);

// panel 6: LP outflow
var p6 = panels[5];
hline(p6,0,colors.zero,1.5);
drawLine(p6,lpBtc,colors.btc,1,null,d3.curveStepAfter);
drawTreads(p6,lpEth,colors.eth,3);
drawTreads(p6,lpSol,colors.sol,3);
drawTreads(p6,lpBtc,colors.btc,3);
note(163,1950,"review thresholds: 20 per market / 15 aggregate (PROVISIONAL)",16,colors.dim);

panels.forEach(frame);

// titles and footer
note(910,66,"GMX E1 shadow safety monitor - day snapshot 2026-08-06",25,colors.text,"middle");
note(910,98,"shadow / dry-run: observes and records only, nothing pages, nothing is written on-chain",25,colors.text,"middle");
note(976.5,2187,"UTC, 2026-08-06",18.5,colors.text,"middle");
note(19,2228,"640 ticks (640 ok) | schemas a6b-flows-1 | gaps shaded | generated 2026-08-06 21:20Z",14,colors.dim);
</script>
</body>
</html>
